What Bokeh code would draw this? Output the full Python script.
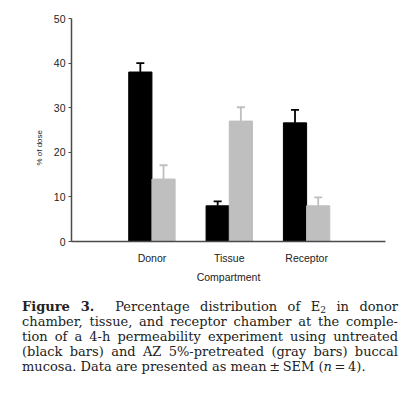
from bokeh.plotting import figure
from bokeh.models import ColumnDataSource, Whisker, TeeHead, Div, FixedTicker
from bokeh.layouts import column
from bokeh.embed import file_html
from bokeh.resources import INLINE

# ---- data ----
compartments = ["Donor", "Tissue", "Receptor"]
untreated = [38.0, 8.0, 26.6]
untreated_sem = [2.0, 1.0, 2.9]
pretreated = [14.0, 27.0, 8.0]
pretreated_sem = [3.1, 3.1, 1.9]
y_ticks = [0, 10, 20, 30, 40, 50]

BLACK = "#000000"
GRAY = "#bfbfbf"
AXIS = "#4a4a4a"
FONT = "Liberation Sans"

xs = list(range(len(compartments)))
bw = 0.30

src_b = ColumnDataSource(dict(
    x=[i - bw / 2 for i in xs], top=untreated,
    upper=[v + e for v, e in zip(untreated, untreated_sem)]))
src_g = ColumnDataSource(dict(
    x=[i + bw / 2 for i in xs], top=pretreated,
    upper=[v + e for v, e in zip(pretreated, pretreated_sem)]))

p = figure(frame_width=314, frame_height=223, x_range=(-1.04, 3.02), y_range=(0, 50),
           output_backend="svg", toolbar_location=None,
           min_border_left=71, min_border_right=20, min_border_top=18, min_border_bottom=47)
p.outline_line_color = None
p.grid.visible = False
p.background_fill_color = None
p.border_fill_color = None

p.vbar(x="x", top="top", width=bw, source=src_b, fill_color=BLACK, line_color=BLACK)
p.vbar(x="x", top="top", width=bw, source=src_g, fill_color=GRAY, line_color=GRAY)

for src, col in ((src_b, BLACK), (src_g, GRAY)):
    w = Whisker(source=src, base="x", upper="upper", lower="top", dimension="height",
                line_color=col, line_width=1.8,
                upper_head=TeeHead(size=8, line_color=col, line_width=1.8),
                lower_head=None)
    p.add_layout(w)

# y axis
p.yaxis.ticker = FixedTicker(ticks=y_ticks)
p.yaxis.minor_tick_line_color = None
p.yaxis.major_tick_in = 0
p.yaxis.major_tick_out = 3
p.yaxis.major_tick_line_color = AXIS
p.yaxis.axis_line_color = AXIS
p.yaxis.axis_line_width = 1.5
p.yaxis.major_label_text_font = FONT
p.yaxis.major_label_text_font_size = "10.5px"
p.yaxis.major_label_text_color = "#222222"
p.yaxis.major_label_standoff = 3
# label sits below the frame's centre in the original: pad its far end
p.yaxis.axis_label = "% of dose" + "\u00a0" * 16
p.yaxis.axis_label_text_font = FONT
p.yaxis.axis_label_text_font_size = "8px"
p.yaxis.axis_label_text_font_style = "normal"
p.yaxis.axis_label_text_color = "#222222"
p.yaxis.axis_label_standoff = 7

# x axis
p.xaxis.ticker = FixedTicker(ticks=xs)
p.xaxis.major_label_overrides = {i: c for i, c in zip(xs, compartments)}
p.xaxis.major_tick_line_color = None
p.xaxis.minor_tick_line_color = None
p.xaxis.axis_line_color = AXIS
p.xaxis.axis_line_width = 1.5
p.xaxis.major_label_text_font = FONT
p.xaxis.major_label_text_font_size = "10.5px"
p.xaxis.major_label_text_color = "#222222"
p.xaxis.major_label_standoff = 4
p.xaxis.axis_label = "Compartment"
p.xaxis.axis_label_text_font = FONT
p.xaxis.axis_label_text_font_size = "10.5px"
p.xaxis.axis_label_text_font_style = "normal"
p.xaxis.axis_label_text_color = "#222222"
p.xaxis.axis_label_standoff = 4

line = "display:block;width:376px;text-align:justify;text-align-last:justify;white-space:nowrap;"
caption = (
    f'<div style="{line}"><b>Figure 3.</b>&nbsp; Percentage distribution of E'
    '<sub style="font-size:0.7em;line-height:0;vertical-align:-0.25em">2</sub> in donor</div>'
    f'<div style="{line}">chamber, tissue, and receptor chamber at the comple-</div>'
    f'<div style="{line}">tion of a 4-h permeability experiment using untreated</div>'
    f'<div style="{line}">(black bars) and AZ 5%-pretreated (gray bars) buccal</div>'
    '<div style="display:block;width:376px;text-align:left;white-space:nowrap;">'
    'mucosa. Data are presented as mean&thinsp;&plusmn;&thinsp;SEM '
    '(<i>n</i>&thinsp;=&thinsp;4).</div>'
)
div = Div(text=caption, width=376, margin=(11, 0, 0, 22),
          styles={"font-family": "DejaVu Serif", "font-size": "13px",
                  "line-height": "15px", "color": "#222222", "display": "block"})

layout = column(p, div, spacing=0)

open("out.html", "w").write(file_html(layout, INLINE))
